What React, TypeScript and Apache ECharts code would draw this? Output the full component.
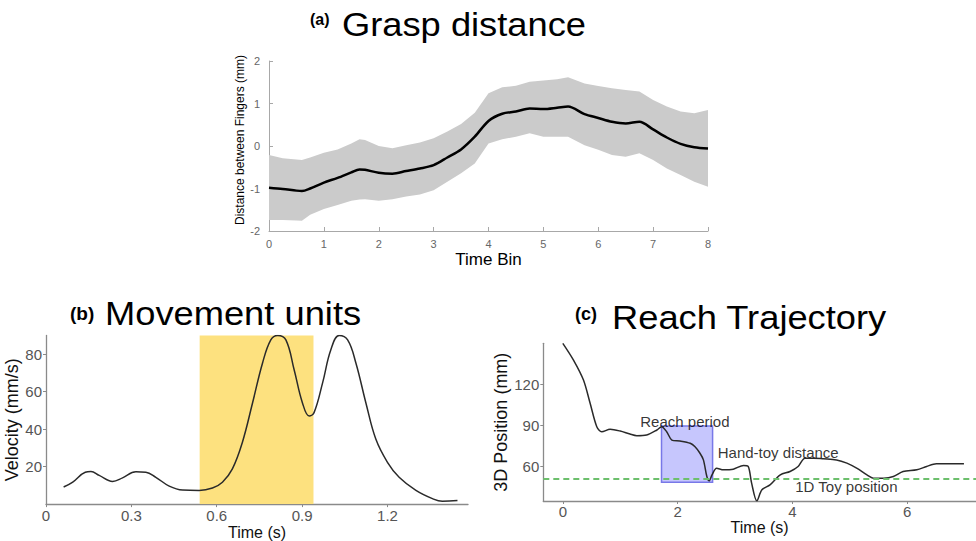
import React, { useEffect, useRef } from "react";
import * as echarts from "echarts";

// ---------- Panel (a): Grasp distance ----------
const graspBins = [0, 0.25, 0.5, 0.6, 0.75, 1, 1.25, 1.5, 1.65, 1.75, 2, 2.25, 2.5, 2.75, 3, 3.25, 3.5, 3.75, 4, 4.25, 4.5, 4.75, 5, 5.25, 5.45, 5.75, 6, 6.25, 6.5, 6.75, 7, 7.25, 7.5, 7.75, 8];
const graspMean = [-0.98, -1.01, -1.05, -1.06, -1.0, -0.86, -0.75, -0.62, -0.55, -0.56, -0.63, -0.65, -0.59, -0.53, -0.45, -0.27, -0.08, 0.22, 0.59, 0.76, 0.81, 0.88, 0.87, 0.9, 0.93, 0.75, 0.66, 0.57, 0.53, 0.57, 0.39, 0.2, 0.05, -0.03, -0.06];
const graspUpper = [-0.21, -0.29, -0.32, -0.33, -0.27, -0.16, -0.08, 0.06, 0.16, 0.14, 0.0, -0.05, 0.02, 0.08, 0.18, 0.34, 0.52, 0.78, 1.24, 1.38, 1.42, 1.51, 1.54, 1.57, 1.62, 1.47, 1.41, 1.36, 1.32, 1.28, 1.08, 0.93, 0.81, 0.77, 0.85];
const graspLower = [-1.74, -1.74, -1.75, -1.76, -1.62, -1.48, -1.39, -1.29, -1.26, -1.25, -1.29, -1.25, -1.19, -1.14, -1.04, -0.84, -0.64, -0.41, 0.06, 0.16, 0.22, 0.3, 0.22, 0.22, 0.22, 0.02, -0.09, -0.21, -0.25, -0.17, -0.33, -0.53, -0.68, -0.84, -0.96];

// ---------- Panel (b): Movement units ----------
const velTime = [0.062, 0.094, 0.138, 0.158, 0.187, 0.234, 0.269, 0.316, 0.351, 0.386, 0.433, 0.48, 0.538, 0.585, 0.62, 0.655, 0.69, 0.726, 0.761, 0.79, 0.814, 0.843, 0.872, 0.901, 0.925, 0.942, 0.972, 1.001, 1.03, 1.06, 1.089, 1.124, 1.159, 1.2, 1.241, 1.3, 1.358, 1.393, 1.446];
const velValue = [9.1, 11.7, 17.0, 17.4, 15.3, 12.1, 14.0, 17.2, 17.0, 14.3, 9.6, 7.5, 7.3, 8.6, 11.7, 18.8, 32.9, 54.1, 75.3, 87.6, 90.0, 87.6, 71.7, 54.1, 47.0, 48.8, 64.7, 82.3, 89.9, 87.6, 75.3, 54.1, 34.7, 22.3, 14.3, 7.3, 2.9, 1.5, 1.9];
const velHighlightX = [0.54, 0.94];
const velHighlightY = [0, 90];
const velXTicks = [0, 0.3, 0.6, 0.9, 1.2];
const velYTicks = [20, 40, 60, 80];

// ---------- Panel (c): Reach trajectory ----------
const reachTime = [0, 0.186, 0.36, 0.476, 0.592, 0.679, 0.825, 1.0, 1.17, 1.29, 1.46, 1.64, 1.72, 1.81, 1.9, 2.04, 2.22, 2.3, 2.39, 2.45, 2.51, 2.55, 2.6, 2.68, 2.8, 2.97, 3.15, 3.23, 3.29, 3.38, 3.47, 3.61, 3.79, 3.96, 4.1, 4.22, 4.37, 4.54, 4.77, 4.95, 5.12, 5.3, 5.41, 5.59, 5.76, 5.93, 6.17, 6.34, 6.51, 6.75, 6.99];
const reachPos = [150.2, 137.9, 123.2, 106.1, 88.9, 85.2, 87.0, 85.7, 83.5, 82.3, 82.8, 86.5, 88.9, 85.2, 79.1, 78.4, 76.7, 74.3, 69.4, 64.5, 52.3, 49.1, 53.5, 58.4, 57.2, 57.7, 60.4, 59.7, 47.4, 34.4, 42.5, 46.2, 53.5, 56.0, 59.7, 65.8, 65.8, 65.3, 64.5, 62.1, 58.4, 53.5, 51.1, 51.1, 52.3, 56.0, 57.2, 59.7, 61.6, 61.6, 61.6];
const reachPeriodX = [1.72, 2.61];
const reachPeriodY = [48.1, 89.4];
const toyPosition = 50.7;
const reachXTicks = [0, 2, 4, 6];
const reachYTicks = [60, 90, 120];
const annotationTexts = ["Reach period", "Hand-toy distance", "1D Toy position"];
const annotationX = [1.35, 2.7, 4.05];
const annotationY = [92.6, 69.8, 45.3];

const FONT = "'Liberation Sans', Arial, Helvetica, sans-serif";

function zip(xs: number[], ys: number[]) {
  return xs.map((x, i) => [x, ys[i]]);
}

function buildOption() {
  const lightAxis = {
    axisLine: { onZero: false, lineStyle: { color: "#a8a8a8", width: 1 } },
    splitLine: { show: false },
  };
  const ggAxisLine = { onZero: false, lineStyle: { color: "#8a8a8a", width: 1.3 } };
  const ggLabel = { color: "#555", fontSize: 15, fontFamily: FONT };
  const ggName = { color: "#111", fontSize: 17, fontFamily: FONT };

  return {
    animation: false,
    backgroundColor: "#ffffff",
    grid: [
      { left: 269, top: 61, width: 439, height: 170 },
      { left: 46, top: 335.4, width: 422, height: 170.1 },
      { left: 543.3, top: 343.3, width: 432.7, height: 157.7 },
    ],
    xAxis: [
      {
        type: "value",
        gridIndex: 0,
        min: 0,
        max: 8,
        interval: 1,
        ...lightAxis,
        axisTick: { inside: true, length: 4, lineStyle: { color: "#a8a8a8" } },
        axisLabel: { color: "#666", fontSize: 11, margin: 7, fontFamily: FONT },
        name: "Time Bin",
        nameLocation: "middle",
        nameGap: 20,
        nameTextStyle: { color: "#000", fontSize: 17, fontFamily: FONT },
      },
      {
        type: "value",
        gridIndex: 1,
        min: 0,
        max: 1.483,
        axisLine: ggAxisLine,
        splitLine: { show: false },
        axisTick: { length: 3, customValues: velXTicks, lineStyle: { color: "#8a8a8a" } },
        axisLabel: { ...ggLabel, margin: 4, customValues: velXTicks },
        name: "Time (s)",
        nameLocation: "middle",
        nameGap: 16,
        nameTextStyle: { ...ggName, fontSize: 16 },
      },
      {
        type: "value",
        gridIndex: 2,
        min: -0.34,
        max: 7.2,
        axisLine: ggAxisLine,
        splitLine: { show: false },
        axisTick: { length: 3, customValues: reachXTicks, lineStyle: { color: "#8a8a8a" } },
        axisLabel: { ...ggLabel, margin: 3, customValues: reachXTicks },
        name: "Time (s)",
        nameLocation: "middle",
        nameGap: 17,
        nameTextStyle: { ...ggName, fontSize: 16 },
      },
    ],
    yAxis: [
      {
        type: "value",
        gridIndex: 0,
        min: -2,
        max: 2,
        interval: 1,
        ...lightAxis,
        axisTick: { inside: true, length: 4, lineStyle: { color: "#a8a8a8" } },
        axisLabel: { color: "#666", fontSize: 11, margin: 9, fontFamily: FONT },
        name: "Distance between Fingers (mm)",
        nameLocation: "middle",
        nameGap: 20,
        nameTextStyle: { color: "#000", fontSize: 12, fontFamily: FONT, padding: [0, 0, 0, 12] },
      },
      {
        type: "value",
        gridIndex: 1,
        min: 0,
        max: 90,
        axisLine: ggAxisLine,
        splitLine: { show: false },
        axisTick: { length: 3, customValues: velYTicks, lineStyle: { color: "#8a8a8a" } },
        axisLabel: { ...ggLabel, margin: 4, customValues: velYTicks },
        name: "Velocity (mm/s)",
        nameLocation: "middle",
        nameGap: 20,
        nameTextStyle: { ...ggName, fontSize: 18 },
      },
      {
        type: "value",
        gridIndex: 2,
        min: 34.3,
        max: 150.2,
        axisLine: ggAxisLine,
        splitLine: { show: false },
        axisTick: { length: 3, customValues: reachYTicks, lineStyle: { color: "#8a8a8a" } },
        axisLabel: { ...ggLabel, margin: 4, customValues: reachYTicks },
        name: "3D Position (mm)",
        nameLocation: "middle",
        nameGap: 27,
        nameTextStyle: { ...ggName, fontSize: 18 },
      },
    ],
    series: [
      {
        type: "custom",
        xAxisIndex: 0,
        yAxisIndex: 0,
        silent: true,
        data: [[graspBins[0], graspLower[0]]],
        renderItem: (_params: any, api: any) => {
          const upperPts = graspBins.map((x, i) => api.coord([x, graspUpper[i]]));
          const lowerPts = graspBins.map((x, i) => api.coord([x, graspLower[i]])).reverse();
          return {
            type: "polygon",
            shape: { points: upperPts.concat(lowerPts) },
            style: { fill: "#cbcbcb", stroke: "none" },
          };
        },
        z: 1,
      },
      {
        type: "line",
        xAxisIndex: 0,
        yAxisIndex: 0,
        data: zip(graspBins, graspMean),
        symbol: "none",
        smooth: 0.3,
        lineStyle: { color: "#000", width: 2.5 },
        z: 3,
      },
      {
        type: "line",
        xAxisIndex: 1,
        yAxisIndex: 1,
        data: zip(velTime, velValue),
        symbol: "none",
        smooth: 0.4,
        lineStyle: { color: "#2a2a2a", width: 1.5 },
        markArea: {
          silent: true,
          itemStyle: { color: "#fde17f" },
          data: [[
            { xAxis: velHighlightX[0], yAxis: velHighlightY[0] },
            { xAxis: velHighlightX[1], yAxis: velHighlightY[1] },
          ]],
        },
      },
      {
        type: "line",
        xAxisIndex: 2,
        yAxisIndex: 2,
        data: zip(reachTime, reachPos),
        symbol: "none",
        smooth: 0.3,
        lineStyle: { color: "#2a2a2a", width: 1.5 },
        markArea: {
          silent: true,
          itemStyle: { color: "rgba(120,120,250,0.42)", borderColor: "#7878e8", borderWidth: 1.5 },
          data: [[
            { xAxis: reachPeriodX[0], yAxis: reachPeriodY[0] },
            { xAxis: reachPeriodX[1], yAxis: reachPeriodY[1] },
          ]],
        },
        markLine: {
          silent: true,
          symbol: ["none", "none"],
          label: { show: false },
          lineStyle: { color: "#6cbf6c", type: [6, 4], width: 2 },
          data: [{ yAxis: toyPosition }],
        },
      },
      {
        type: "scatter",
        xAxisIndex: 2,
        yAxisIndex: 2,
        symbolSize: 0,
        silent: true,
        data: annotationX.map((x, i) => ({ value: [x, annotationY[i]], name: annotationTexts[i] })),
        label: {
          show: true,
          position: "right",
          distance: 0,
          formatter: "{b}",
          color: "#000",
          fontSize: 15,
          fontFamily: FONT,
        },
      },
    ],
    graphic: [
      { type: "text", x: 310, y: 19, style: { text: "(a)", fontSize: 16, fontWeight: "bold", fontFamily: FONT, fill: "#000", align: "left", verticalAlign: "middle" } },
      { type: "text", x: 342, y: 25, scaleX: 1.1, style: { text: "Grasp distance", fontSize: 33, fontFamily: FONT, fill: "#000", align: "left", verticalAlign: "middle" } },
      { type: "text", x: 70, y: 313, style: { text: "(b)", fontSize: 19, fontWeight: "bold", fontFamily: FONT, fill: "#000", align: "left", verticalAlign: "middle" } },
      { type: "text", x: 105, y: 314, scaleX: 1.1, style: { text: "Movement units", fontSize: 33, fontFamily: FONT, fill: "#000", align: "left", verticalAlign: "middle" } },
      { type: "text", x: 575, y: 314, style: { text: "(c)", fontSize: 18, fontWeight: "bold", fontFamily: FONT, fill: "#000", align: "left", verticalAlign: "middle" } },
      { type: "text", x: 612, y: 318, scaleX: 1.1, style: { text: "Reach Trajectory", fontSize: 33, fontFamily: FONT, fill: "#000", align: "left", verticalAlign: "middle" } },
    ],
  };
}

export default function App() {
  const ref = useRef<HTMLDivElement>(null);
  useEffect(() => {
    if (!ref.current) return;
    const chart = echarts.init(ref.current, null, { renderer: "svg" });
    chart.setOption(buildOption() as any);
    return () => chart.dispose();
  }, []);
  return (
    <div
      ref={ref}
      style={{ position: "absolute", left: 0, top: 0, width: 976, height: 541, background: "#fff" }}
    />
  );
}
